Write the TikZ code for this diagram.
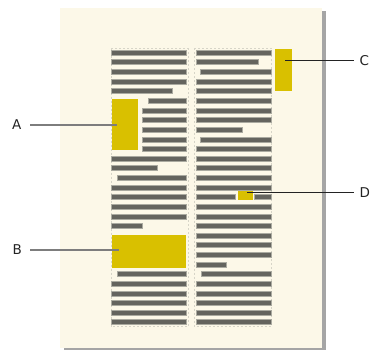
\documentclass[tikz,border=0pt]{standalone}
\usepackage{fontspec}
\setsansfont{DejaVu Sans}
\definecolor{pagecream}{RGB}{252,248,232}
\definecolor{pageshadow}{RGB}{165,165,165}
\definecolor{barcol}{RGB}{100,100,94}
\definecolor{barhalo}{RGB}{170,170,160}
\definecolor{markyellow}{RGB}{217,192,0}
\definecolor{guidegray}{RGB}{215,213,200}
\definecolor{leadgray}{RGB}{125,125,125}
\definecolor{leaddark}{RGB}{35,35,35}
\usetikzlibrary{positioning}

\begin{document}
\begin{tikzpicture}[
    x=1pt, y=-1pt,
    bar/.style={fill=barcol, draw=barhalo, line width=0.7pt},
    hilite/.style={fill=markyellow, inner sep=0pt},
    guide/.style={draw=guidegray, dash pattern=on 2pt off 2pt, line width=0.5pt},
    tag/.style={font=\sffamily\fontsize{13.5}{16}\selectfont, text=leaddark, inner sep=0pt},
    lead/.style={line width=1.2pt, leadgray},
    leadd/.style={line width=1pt, leaddark}
  ]
    \useasboundingbox (0,0) rectangle (371,350);

    % Page and its shadow
    \fill[pageshadow] (64,11) rectangle (325.5,349.5);
    \fill[pagecream] (60,8) rectangle (322,348);

    % Column frames
    \draw[guide] (111,48.5) rectangle (188,326.5);
    \draw[guide] (194.5,48.5) rectangle (271,326.5);

    % Left column of text
    \foreach \r/\a/\b in {0/111/186, 1/111/186, 2/111/186, 3/111/186, 4/111/172,
        5/148/186, 6/142/186, 7/142/186, 8/142/186, 9/142/186, 10/142/186,
        11/111/186, 12/111/157, 13/117/186, 14/111/186, 15/111/186, 16/111/186,
        17/111/186, 18/111/142, 23/117/186, 24/111/186, 25/111/186, 26/111/186,
        27/111/186, 28/111/186}
      \path[bar] (\a,{52.7+9.63*\r-2.5}) rectangle (\b,{52.7+9.63*\r+2.5});

    % Right column of text
    \foreach \r/\a/\b in {0/196/271, 1/196/258, 2/200/271, 3/196/271, 4/196/271,
        5/196/271, 6/196/271, 7/196/271, 8/196/242, 9/200/271, 10/196/271,
        11/196/271, 12/196/271, 13/196/271, 14/196/271, 15/196/235, 15/254/271,
        16/196/271, 17/196/271, 18/196/271, 19/196/271, 20/196/271, 21/196/271,
        22/196/226, 23/201/271, 24/196/271, 25/196/271, 26/196/271, 27/196/271,
        28/196/271}
      \path[bar] (\a,{52.7+9.63*\r-2.5}) rectangle (\b,{52.7+9.63*\r+2.5});

    % Highlighted blocks
    \node[hilite, minimum width=26pt, minimum height=51.5pt] (boxA) at (124.5,124.3) {};
    \node[hilite, minimum width=74pt, minimum height=33pt]   (boxB) at (149,251.5) {};
    \node[hilite, minimum width=17pt, minimum height=41.4pt] (boxC) at (283.5,70) {};
    \node[hilite, minimum width=14.7pt, minimum height=9.3pt] (boxD) at (245.3,195.3) {};

    % Callout labels
    \node[tag, anchor=east] (labA) at (21.5,125) {A};
    \node[tag, anchor=east] (labB) at (22,250) {B};
    \node[tag, anchor=west] (labC) at (359.5,61) {C};
    \node[tag, anchor=west] (labD) at (359.5,192.3) {D};

    \coordinate (ptA) at (117,125);
    \coordinate (ptB) at (119,250);
    \coordinate (ptC) at (285,61);
    \coordinate (ptD) at (247,192.3);

    % Leader lines
    \draw[lead]  (labA.east) ++(8.5,0) -- (ptA);
    \draw[lead]  (labB.east) ++(8,0) -- (ptB);
    \draw[leadd] (labC.west) ++(-6,0) -- (ptC);
    \draw[leadd] (labD.west) ++(-6,0) -- (ptD);
\end{tikzpicture}
\end{document}
